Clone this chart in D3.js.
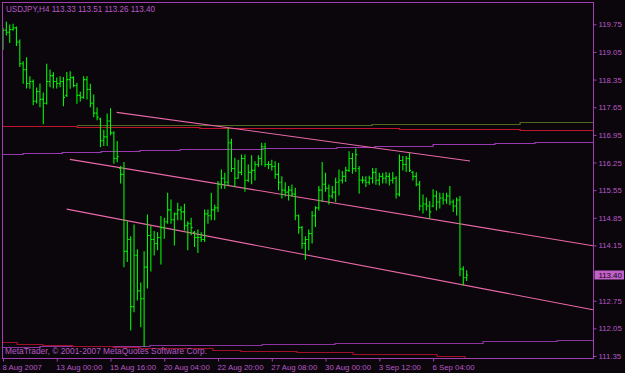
<!DOCTYPE html>
<html>
<head>
<meta charset="utf-8">
<script src="https://cdn.jsdelivr.net/npm/d3@7"></script>
<style>
  body { margin: 0; background: #0b060b; }
  svg { display: block; }
</style>
</head>
<body>
<script>

// DATA
// =============================================================================

const symbolTitle = "USDJPY,H4";
const lastQuote = [113.33, 113.51, 113.26, 113.40];

// one H4 bar per entry
const opens = [119.20,119.60,119.55,119.62,119.66,119.30,118.75,118.60,118.25,118.30,
  117.80,118.05,117.85,117.75,118.30,118.45,118.30,118.25,118.30,117.95,
  118.35,118.40,118.20,117.95,117.90,118.35,118.10,117.75,117.50,117.35,
  116.80,116.90,117.30,117.00,116.35,116.10,115.95,114.00,114.30,112.60,
  113.90,113.00,112.80,113.60,114.40,114.30,114.20,114.35,114.60,114.75,
  115.05,114.80,114.95,115.05,115.00,114.65,114.70,114.48,114.35,114.35,
  114.30,114.95,114.90,115.05,115.10,115.70,115.85,115.75,116.75,116.10,
  115.85,116.00,116.35,115.80,116.00,116.05,116.20,116.35,116.65,116.20,
  116.20,116.15,115.95,115.75,115.55,115.50,115.55,115.45,114.90,114.60,
  114.20,114.30,114.45,114.90,115.10,115.55,115.70,115.60,115.40,115.50,
  115.75,115.80,115.90,116.05,116.35,116.10,116.10,115.80,115.80,115.75,
  115.85,116.00,115.80,115.90,115.85,115.90,115.80,115.85,115.45,116.30,
  116.20,116.35,116.00,115.90,115.70,115.15,115.20,115.15,115.15,115.40,
  115.25,115.35,115.30,115.40,115.25,115.15,115.30,113.55,113.33];

const highs = [119.65,119.80,119.73,119.75,119.68,119.35,118.80,118.90,118.42,118.34,
  118.14,118.24,118.01,118.74,118.59,118.52,118.39,118.42,118.40,118.53,
  118.55,118.42,118.26,118.03,118.42,118.42,118.23,117.96,117.63,117.37,
  117.07,117.48,117.61,117.03,116.78,116.15,116.25,114.75,114.37,114.67,
  114.04,113.20,113.99,114.92,114.63,114.50,114.47,114.88,114.84,115.47,
  115.30,114.97,115.22,115.13,115.19,114.75,114.84,114.50,114.54,114.47,
  115.05,115.05,115.47,115.17,115.77,116.06,115.98,117.12,116.84,116.36,
  116.31,116.44,116.44,116.19,116.42,116.27,116.42,116.74,116.74,116.27,
  116.31,116.27,116.23,115.89,115.74,115.64,115.68,115.60,114.92,114.63,
  114.37,114.54,115.01,115.13,115.64,116.25,115.98,115.68,115.64,115.85,
  116.06,116.02,116.13,116.52,116.48,116.59,116.15,115.89,115.89,115.90,
  116.10,116.10,115.98,115.98,116.00,115.98,116.00,115.89,116.44,116.40,
  116.40,116.48,116.02,115.99,115.77,115.43,115.35,115.26,115.56,115.52,
  115.47,115.47,115.47,115.64,115.30,115.35,115.39,113.61,113.51];

const lows = [119.12,119.48,119.29,119.60,119.21,118.68,118.26,118.14,118.13,117.71,
  117.76,117.66,117.23,117.73,118.17,118.14,118.14,118.17,117.69,117.92,
  118.13,118.17,117.75,117.81,117.88,117.86,117.66,117.41,117.33,116.65,
  116.68,116.68,116.95,116.23,116.27,115.73,113.61,113.74,112.01,112.47,
  112.77,112.09,111.59,113.07,113.50,113.91,114.04,113.68,114.33,114.71,
  114.71,114.16,114.80,114.80,114.54,114.04,114.42,114.12,113.97,114.25,
  114.25,114.71,114.80,114.80,115.01,115.60,115.60,115.68,116.02,115.64,
  115.85,115.94,115.52,115.77,115.71,115.81,116.15,116.19,116.15,116.10,
  116.06,115.85,115.56,115.35,115.40,115.30,115.40,114.80,114.46,114.08,
  113.80,114.04,114.21,114.63,115.05,115.26,115.52,115.20,115.35,115.26,
  115.43,115.73,115.77,116.02,115.98,116.02,115.47,115.73,115.64,115.70,
  115.73,115.70,115.68,115.73,115.73,115.68,115.73,115.35,115.40,116.06,
  116.02,116.02,115.81,115.66,115.05,114.97,115.05,114.84,115.13,115.05,
  115.10,115.20,115.22,115.18,115.01,114.92,113.38,113.15,113.26];

const closes = [119.60,119.55,119.62,119.66,119.30,118.75,118.60,118.25,118.30,117.80,
  118.05,117.85,117.75,118.30,118.45,118.30,118.25,118.30,117.90,118.35,
  118.40,118.20,117.95,117.90,118.35,118.10,117.75,117.50,117.40,116.80,
  116.90,117.30,117.00,116.35,116.40,115.95,114.00,114.30,112.60,113.90,
  113.00,112.80,113.60,114.40,114.30,114.20,114.35,114.60,114.75,115.05,
  114.80,114.95,115.05,115.00,114.65,114.70,114.60,114.35,114.35,114.30,
  114.95,114.90,115.05,115.10,115.70,115.85,115.75,116.75,116.10,115.85,
  116.00,116.35,115.80,116.00,116.05,116.20,116.35,116.65,116.20,116.20,
  116.15,115.95,115.75,115.55,115.50,115.55,115.45,114.90,114.60,114.20,
  114.30,114.45,114.90,115.10,115.55,115.70,115.60,115.40,115.50,115.75,
  115.80,115.90,116.05,116.35,116.10,116.45,115.80,115.80,115.75,115.85,
  116.00,115.80,115.90,115.85,115.90,115.80,115.85,115.45,116.30,116.20,
  116.35,116.05,115.90,115.70,115.15,115.20,115.15,115.00,115.40,115.25,
  115.35,115.30,115.40,115.25,115.15,115.30,113.55,113.33,113.40];

// time axis: a label every 16 bars
const dateTickBars = [0, 16, 32, 48, 64, 80, 96, 112, 128];
const dateLabels = ["8 Aug 2007", "13 Aug 00:00", "15 Aug 16:00", "20 Aug 04:00",
  "22 Aug 20:00", "27 Aug 08:00", "30 Aug 00:00", "3 Sep 12:00", "6 Sep 04:00"];

const priceTicks = [119.75, 119.05, 118.35, 117.65, 116.95, 116.25, 115.55,
  114.85, 114.15, 112.75, 112.05, 111.35];

// drawn channel lines, [bar, price]
const upperChannel = [[33.8, 117.52], [139, 116.29]];
const middleChannel = [[19.9, 116.33], [175.6, 114.14]];
const lowerChannel = [[18.96, 115.07], [175.6, 112.52]];

// indicator lines, [bar, price] step points
const oliveTop = [[22, 117.21], [109.8, 117.23], [153.9, 117.27], [175.6, 117.27]];
const redTop = [[-0.3, 117.17], [22, 117.15], [58.6, 117.12], [118, 117.09], [153.9, 117.07], [175.6, 117.07]];
const purpleMid = [[-0.3, 116.47], [5.95, 116.48], [17.6, 116.51], [29.2, 116.54], [40.8, 116.56],
  [52.7, 116.58], [64.6, 116.59], [77.4, 116.61], [87.8, 116.63], [99.4, 116.65],
  [110.7, 116.67], [128, 116.71], [146.4, 116.74], [158.3, 116.78], [175.6, 116.78]];
const purpleLow = [[-0.3, 111.58], [11, 111.60], [31.8, 111.61], [43.75, 111.62], [58.6, 111.63],
  [77.1, 111.66], [98.8, 111.68], [142.9, 111.72], [164.9, 111.76], [175.6, 111.76]];
const redLow = [[-0.3, 111.70], [4.2, 111.66], [11.9, 111.63], [20.8, 111.61], [32.7, 111.58],
  [40.8, 111.56], [62.5, 111.50], [70.8, 111.47], [87.5, 111.44], [104.2, 111.41],
  [118.2, 111.39], [129.2, 111.34], [137.5, 111.31], [146.4, 111.28], [175.6, 111.28]];

// CONFIG VARS
// =============================================================================

const width = 625;
const height = 373;
const plot = { left: 2.5, top: 2.5, right: 593.5, bottom: 358.5 };

const bg = "#0b060b";
const frameColor = "#a040b0";
const textColor = "#b858c8";
const barColor = "#00f400";
const channelColor = "#e868a8";
const font = "Liberation Sans, Arial, sans-serif";

// SCALES
// =============================================================================

const xScale = d3.scaleLinear()
    .domain([0, 175.6])
    .range([3, 593]);

const yScale = d3.scaleLinear()
    .domain([111.35, 119.75])
    .range([356, 24.3]);

// INITIALIZE THE SVG
// =============================================================================

const svg = d3.select("body")
    .append("svg")
    .attr("width", width)
    .attr("height", height);

svg.append("rect")
    .attr("width", width)
    .attr("height", height)
    .attr("fill", bg);

svg.append("clipPath")
    .attr("id", "plotclip")
    .append("rect")
    .attr("x", plot.left)
    .attr("y", plot.top)
    .attr("width", plot.right - plot.left)
    .attr("height", plot.bottom - plot.top);

const layer = svg.append("g").attr("clip-path", "url(#plotclip)");

// INDICATOR LINES
// =============================================================================

const stepLine = d3.line()
    .x(d => xScale(d[0]))
    .y(d => Math.round(yScale(d[1])) + 0.5)
    .curve(d3.curveStepAfter);

const indicators = [
  { pts: oliveTop, color: "#4f6a1e" },
  { pts: redTop, color: "#c0142c" },
  { pts: purpleMid, color: "#9a38b0" },
  { pts: purpleLow, color: "#8a34a0" },
  { pts: redLow, color: "#a01028" }
];

layer.selectAll("path.indicator")
    .data(indicators)
    .enter()
    .append("path")
    .attr("class", "indicator")
    .attr("d", d => stepLine(d.pts))
    .attr("fill", "none")
    .attr("stroke", d => d.color)
    .attr("stroke-width", 1.2);

// channel trend lines
const straight = d3.line()
    .x(d => xScale(d[0]))
    .y(d => yScale(d[1]));

layer.selectAll("path.channel")
    .data([upperChannel, middleChannel, lowerChannel])
    .enter()
    .append("path")
    .attr("class", "channel")
    .attr("d", straight)
    .attr("fill", "none")
    .attr("stroke", channelColor)
    .attr("stroke-width", 1.1);

// OHLC BARS
// =============================================================================

const bars = layer.selectAll("g.bar")
    .data(closes.map((c, i) => ({ i: i, o: opens[i], h: highs[i], l: lows[i], c: c })))
    .enter()
    .append("g")
    .attr("class", "bar")
    .attr("stroke", barColor)
    .attr("stroke-width", 1.1);

bars.append("line")
    .attr("x1", d => xScale(d.i))
    .attr("x2", d => xScale(d.i))
    .attr("y1", d => yScale(d.h) - 0.5)
    .attr("y2", d => yScale(d.l) + 0.5);

bars.append("line")
    .attr("x1", d => xScale(d.i) - 1.5)
    .attr("x2", d => xScale(d.i))
    .attr("y1", d => yScale(d.o))
    .attr("y2", d => yScale(d.o));

bars.append("line")
    .attr("x1", d => xScale(d.i))
    .attr("x2", d => xScale(d.i) + 1.5)
    .attr("y1", d => yScale(d.c))
    .attr("y2", d => yScale(d.c));

// FRAME & AXES
// =============================================================================

svg.append("rect")
    .attr("x", plot.left)
    .attr("y", plot.top)
    .attr("width", plot.right - plot.left)
    .attr("height", plot.bottom - plot.top)
    .attr("fill", "none")
    .attr("stroke", frameColor)
    .attr("stroke-width", 1);

const yAxis = svg.append("g")
    .attr("transform", `translate(${plot.right},0)`)
    .call(d3.axisRight(yScale)
        .tickValues(priceTicks)
        .tickFormat(d3.format(".2f"))
        .tickSize(3)
        .tickPadding(2));

const xAxis = svg.append("g")
    .attr("transform", `translate(0,${plot.bottom})`)
    .call(d3.axisBottom(xScale)
        .tickValues(dateTickBars)
        .tickFormat((d, i) => dateLabels[i])
        .tickSize(3)
        .tickPadding(2.5));

xAxis.selectAll("text")
    .attr("text-anchor", "start")
    .attr("dx", "-1");

[yAxis, xAxis].forEach(ax => {
  ax.select(".domain").remove();
  ax.selectAll("line").attr("stroke", frameColor);
  ax.selectAll("text")
      .attr("fill", textColor)
      .style("font-family", font)
      .style("font-size", "7.8px");
});

// current price marker
const lastY = Math.round(yScale(lastQuote[3]));
svg.append("rect")
    .attr("x", 594.5)
    .attr("y", lastY - 4.5)
    .attr("width", 29.5)
    .attr("height", 9)
    .attr("fill", "#c060c8");

svg.append("text")
    .attr("x", 598.5)
    .attr("y", lastY + 3)
    .attr("fill", "#0b060b")
    .style("font-family", font)
    .style("font-size", "7.8px")
    .text(lastQuote[3].toFixed(2));

// TEXTS
// =============================================================================

svg.append("text")
    .attr("x", 6)
    .attr("y", 12)
    .attr("fill", textColor)
    .attr("textLength", 149)
    .attr("lengthAdjust", "spacingAndGlyphs")
    .style("font-family", font)
    .style("font-size", "8.2px")
    .text(symbolTitle + " " + lastQuote.map(v => v.toFixed(2)).join(" "));

svg.append("text")
    .attr("x", 5)
    .attr("y", 354)
    .attr("fill", textColor)
    .attr("textLength", 202)
    .attr("lengthAdjust", "spacingAndGlyphs")
    .style("font-family", font)
    .style("font-size", "8.2px")
    .text("MetaTrader, \u00a9 2001-2007 MetaQuotes Software Corp.");

</script>
</body>
</html>
